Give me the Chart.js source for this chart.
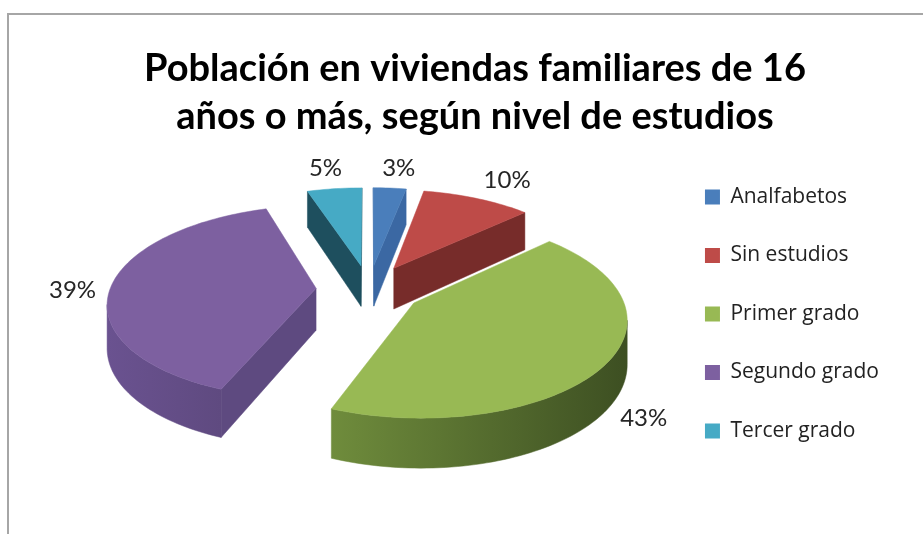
<!DOCTYPE html>
<html>
<head>
<meta charset="utf-8">
<title>Nivel de estudios</title>
<script src="https://cdn.jsdelivr.net/npm/chart.js@4"></script>
<style>
  html, body { margin: 0; padding: 0; background: #fff; overflow: hidden; }
  #frame { position: absolute; left: 7px; top: 13px; width: 930px; height: 530px; border: 2px solid #a6a6a6; box-sizing: border-box; }
  #wrap { position: absolute; left: 0; top: 0; width: 923px; height: 534px; }
</style>
</head>
<body>
<div id="frame"></div>
<div id="wrap"><canvas id="pie"></canvas></div>
<script>
/* =================================================
  Data
==================================================== */

const categories = ["Analfabetos", "Sin estudios", "Primer grado", "Segundo grado", "Tercer grado"];
const percentages = [3, 10, 43, 39, 5];
const titleLines = ["Población en viviendas familiares de 16", "años o más, según nivel de estudios"];

const topColors = ['#4a7ebb', '#be4b48', '#98b954', '#7d60a0', '#46aac5'];
const cutColors = ['#3b68a3', '#772c2a', '#5f7a33', '#5e4a80', '#1e4f5e'];
const rimLeftColors = ['#3b68a3', '#772c2a', '#6f8c3c', '#6a5290', '#1e4f5e'];
const rimRightColors = ['#3b68a3', '#772c2a', '#3d4f22', '#5f4a80', '#1e4f5e'];

/* label shift from the slice's outer edge, in px */
const labelShiftX = [9, 30, 37, -39, -9];
const labelShiftY = [-20, -18, 55, 5, -20];

/* =================================================
  3D pie plugin: takes the angles of the library's
  arcs and projects them with a simple perspective
==================================================== */

const pie3d = {
  id: 'pie3d',
  beforeDatasetsDraw(chart, args, opts) {
    const ctx = chart.ctx;
    const arcs = chart.getDatasetMeta(0).data;

    const project = (x, y, drop) => {
      const s = 1 / (1 - y / opts.focal);
      return { x: opts.cx + x * s, y: opts.cy + y * opts.tilt * s + drop * s };
    };

    const slices = arcs.map(arc => {
      const p = arc.getProps(['startAngle', 'endAngle']);
      const mid = (p.startAngle + p.endAngle) / 2;
      const ox = Math.cos(mid) * opts.explode;
      const oy = Math.sin(mid) * opts.explode;
      const rim = [];
      const steps = Math.max(6, Math.round((p.endAngle - p.startAngle) * 40));
      for (let i = 0; i <= steps; i++) {
        const a = p.startAngle + (p.endAngle - p.startAngle) * i / steps;
        rim.push([ox + Math.cos(a) * opts.radius, oy + Math.sin(a) * opts.radius]);
      }
      return { ox, oy, mid, rim };
    });

    const poly = (pts, fill) => {
      ctx.beginPath();
      pts.forEach((q, i) => i ? ctx.lineTo(q.x, q.y) : ctx.moveTo(q.x, q.y));
      ctx.closePath();
      ctx.fillStyle = fill;
      ctx.fill();
      ctx.strokeStyle = fill;
      ctx.lineWidth = 0.5;
      ctx.stroke();
    };

    ctx.save();

    // walls first, back slices before front ones
    const order = slices.map((s, i) => i).sort((a, b) => slices[a].oy - slices[b].oy);
    order.forEach(i => {
      const s = slices[i];
      const apexTop = project(s.ox, s.oy, 0);
      const apexLow = project(s.ox, s.oy, opts.depth);
      const first = s.rim[0];
      const last = s.rim[s.rim.length - 1];

      const startTop = project(first[0], first[1], 0);
      if (startTop.x < apexTop.x) {
        poly([apexTop, startTop, project(first[0], first[1], opts.depth), apexLow], cutColors[i]);
      }
      const endTop = project(last[0], last[1], 0);
      if (endTop.x > apexTop.x) {
        poly([apexTop, endTop, project(last[0], last[1], opts.depth), apexLow], cutColors[i]);
      }

      // only the part of the rim that faces the viewer
      const tops = s.rim.map(q => project(q[0], q[1], 0));
      const lows = s.rim.map(q => project(q[0], q[1], opts.depth));
      const seen = [];
      for (let k = 0; k < tops.length - 1; k++) {
        if (tops[k + 1].x < tops[k].x && s.rim[k][1] > s.oy - 40) seen.push(k, k + 1);
      }
      if (seen.length) {
        const from = seen[0], to = seen[seen.length - 1];
        const g = ctx.createLinearGradient(tops[to].x, 0, tops[from].x, 0);
        g.addColorStop(0, rimLeftColors[i]);
        g.addColorStop(1, rimRightColors[i]);
        poly(tops.slice(from, to + 1).concat(lows.slice(from, to + 1).reverse()), g);
      }
    });

    // top faces
    slices.forEach((s, i) => {
      const pts = [project(s.ox, s.oy, 0)].concat(s.rim.map(q => project(q[0], q[1], 0)));
      poly(pts, topColors[i]);
    });

    // labels outside the outer edge
    ctx.fillStyle = '#262626';
    ctx.font = opts.labelFont;
    ctx.textAlign = 'center';
    ctx.textBaseline = 'middle';
    slices.forEach((s, i) => {
      const lx = s.ox + Math.cos(s.mid) * opts.radius;
      const ly = s.oy + Math.sin(s.mid) * opts.radius;
      const q = project(lx, ly, 0);
      ctx.fillText(percentages[i] + '%', q.x + labelShiftX[i], q.y + labelShiftY[i]);
    });

    ctx.restore();
    return false;
  }
};

/* =================================================
  Chart
==================================================== */

new Chart(document.getElementById('pie'), {
  type: 'pie',
  data: {
    labels: categories,
    datasets: [{
      data: percentages,
      backgroundColor: topColors,
      borderWidth: 0
    }]
  },
  plugins: [pie3d],
  options: {
    responsive: true,
    maintainAspectRatio: false,
    animation: false,
    layout: {
      padding: { left: 61, right: 34, top: 45, bottom: 55 }
    },
    plugins: {
      tooltip: { enabled: false },
      title: {
        display: true,
        text: titleLines,
        color: '#000',
        font: { family: 'Lato', size: 38, weight: 'bold', lineHeight: 1.26 },
        padding: { top: 0, bottom: 10 }
      },
      legend: {
        position: 'right',
        align: 'end',
        labels: {
          boxWidth: 15,
          boxHeight: 15,
          padding: 37.5,
          color: '#222',
          font: { family: 'Open Sans', size: 21 }
        }
      },
      pie3d: {
        cx: 369, cy: 289, radius: 206, explode: 53,
        tilt: 0.46, focal: 1473, depth: 42,
        labelFont: '24px Lato'
      }
    }
  }
});
</script>
</body>
</html>
